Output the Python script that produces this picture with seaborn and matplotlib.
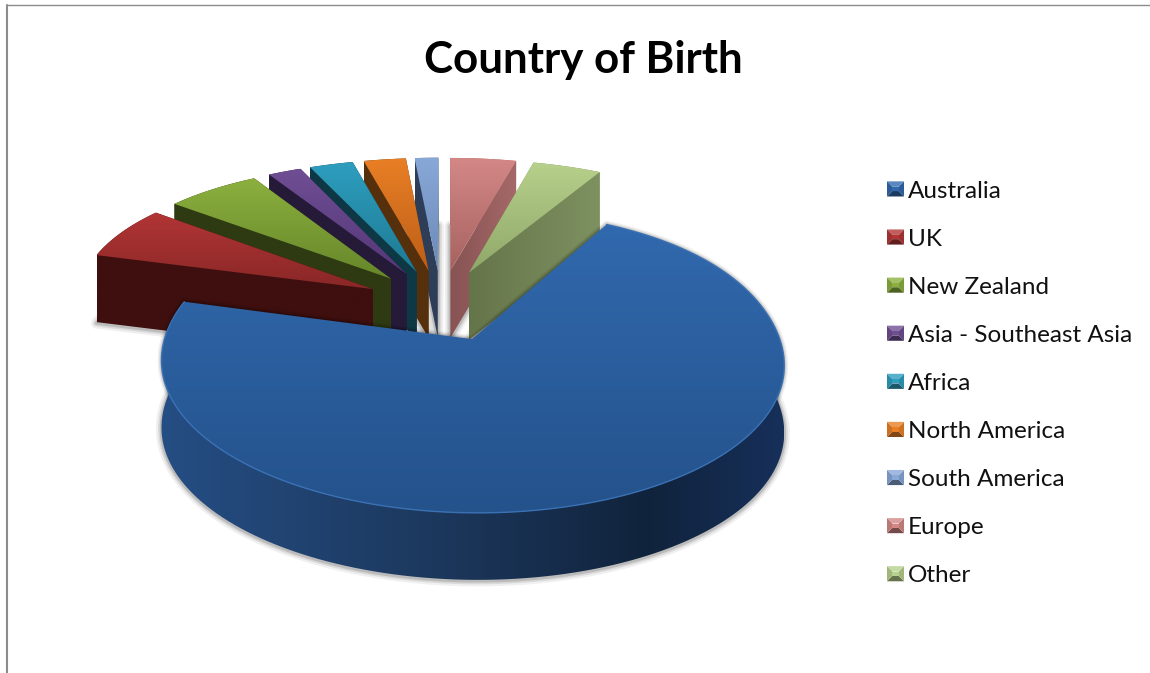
# Country of Birth - exploded 3D style pie drawn with seaborn / matplotlib
import numpy as np
import matplotlib
matplotlib.use("Agg")
import matplotlib.pyplot as plt
import seaborn as sns
from matplotlib.colors import to_rgb
from matplotlib.legend_handler import HandlerBase
from matplotlib.patches import Patch, Polygon

# ------------------------------
# Data
# ------------------------------
countries = ["Australia", "UK", "New Zealand", "Asia - Southeast Asia", "Africa",
             "North America", "South America", "Europe", "Other"]
shares = [70.9, 6.4, 5.8, 2.0, 2.6, 2.5, 1.4, 3.9, 4.1]

top_light = ["#3169AE", "#B23535", "#8CB03F", "#704E94", "#2E9EBF",
             "#E97F25", "#88A8D8", "#D38886", "#B7D08B"]
top_dark = ["#24528B", "#892727", "#668629", "#543878", "#1E7A94",
            "#BC5E18", "#6C8AB8", "#A66260", "#8FA769"]
face_near = ["#1B3558", "#3E0F0E", "#2E3A12", "#251A38", "#0E3844",
             "#56300C", "#2E3E58", "#875353", "#65754A"]
face_far = ["#1B3558", "#3E0F0E", "#2E3A12", "#251A38", "#0E3844",
            "#56300C", "#2E3E58", "#A56868", "#7E9160"]
wall_stops = ["#254E84", "#1B3558", "#10233C", "#17305A"]

# ------------------------------
# Projection of the pie plane
# ------------------------------
start_angle = 29.0
explode = 0.26
depth = 67
x0, y0, bx = 441, 305, 298
ay_back, ay_front = 139, 136.5
persp_back, persp_front, persp_y = 0.08, 0.15, 0.15


def project(x, y):
    # smooth blend between the far and the near half, no kink on the rim
    w = 0.5 * (1 + np.tanh(y / 0.5))
    px = 1 / (1 + (persp_front * (1 - w) + persp_back * w) * y)
    py = 1 / (1 + persp_y * y)
    return x0 + bx * x * px, y0 - (ay_front * (1 - w) + ay_back * w) * y * py


def mix(c1, c2, t):
    return tuple(np.array(to_rgb(c1)) * (1 - t) + np.array(to_rgb(c2)) * t)


sns.set_theme(style="white")
plt.rcParams["font.family"] = ["Lato", "DejaVu Sans"]
palette = sns.color_palette(top_light)

fig = plt.figure(figsize=(11.5, 6.73), dpi=100)
ax = fig.add_axes([0, 0, 1, 1])
ax.set_axis_off()


def fill_gradient(poly, colors, horizontal, zorder):
    # gradient image cut to the polygon
    ramp = np.array([to_rgb(c) for c in colors])
    pos = np.linspace(0, 1, len(colors))
    t = np.linspace(0, 1, 128)
    grad = np.column_stack([np.interp(t, pos, ramp[:, k]) for k in range(3)])
    grad = grad[None, :, :] if horizontal else grad[:, None, :]
    im = ax.imshow(grad, extent=[poly[:, 0].min(), poly[:, 0].max(), poly[:, 1].max(), poly[:, 1].min()],
                   aspect="auto", interpolation="bilinear", zorder=zorder)
    clip = Polygon(poly, closed=True, fc="none", ec="none", transform=ax.transData)
    ax.add_patch(clip)
    im.set_clip_path(clip)


spans = np.array(shares) / sum(shares) * 360
starts = start_angle + np.concatenate([[0], np.cumsum(spans)[:-1]])
mids = np.radians(starts + spans / 2)

# far slices first, Australia goes on last
order = sorted(range(len(shares)), key=lambda i: -np.cos(mids[i]))
z = 2

for i in order:
    cx, cy = explode * np.sin(mids[i]), explode * np.cos(mids[i])
    t = np.radians(np.linspace(starts[i], starts[i] + spans[i], 160))
    ox, oy = project(cx + np.sin(t), cy + np.cos(t))
    tipx, tipy = project(np.array(cx), np.array(cy))
    top = np.column_stack([np.r_[tipx, ox], np.r_[tipy, oy]])
    bottom = top + [0, depth]

    # soft shadow under the slice
    for lw, alpha in [(8, 0.06), (5, 0.09), (2.5, 0.14)]:
        ax.add_patch(Polygon(bottom + [0, 1], closed=True, fc="none", ec="black",
                             lw=lw, alpha=alpha, joinstyle="round", zorder=z))
        if i == 0:
            ax.add_patch(Polygon(top, closed=True, fc="none", ec="black",
                                 lw=lw * 0.7, alpha=alpha, joinstyle="round", zorder=z))
    z += 1

    # outer wall, on Australia it is the only part of the side that shows
    wall = np.vstack([np.column_stack([ox, oy]), np.column_stack([ox[::-1], oy[::-1] + depth])])
    if i == 0:
        # left to right, wall runs from x 158 to 785 and gets darkest past the middle
        stops = np.interp(np.linspace(wall[:, 0].min(), wall[:, 0].max(), 32), [158, 470, 650, 785], [0, 1, 2, 3])
        cols = [mix(wall_stops[int(min(s, 2))], wall_stops[int(min(s, 2)) + 1], s - int(min(s, 2))) for s in stops]
        fill_gradient(wall, cols, True, z)
    else:
        fill_gradient(wall, [face_far[i], face_far[i]], True, z)
    z += 1

    # the two flat cut faces
    if i != 0:
        for ex, ey in [(ox[0], oy[0]), (ox[-1], oy[-1])]:
            face = np.array([(tipx, tipy), (ex, ey), (ex, ey + depth), (tipx, tipy + depth)], dtype=float)
            cols = [face_near[i], face_far[i]] if ex > tipx else [face_far[i], face_near[i]]
            fill_gradient(face, cols, True, z)
            z += 1

    # top face with vertical gradient
    fill_gradient(top, [top_light[i], top_dark[i]], False, z)
    z += 1

    if i == 0:
        ax.plot(ox, oy, color="#3A71B5", lw=1.0, zorder=z)
        z += 1

# chart area border, only left and top are in the picture
ax.plot([7, 7], [5, 673], color="#8C8C8C", lw=1.5, zorder=1)
ax.plot([7, 1150], [5, 5], color="#8C8C8C", lw=1.0, zorder=1)

ax.text(583, 60, "Country of Birth", ha="center", va="center",
        fontsize=31.6, fontweight="bold", color="black")


# ------------------------------
# Legend with bevelled keys
# ------------------------------
class BevelKey(HandlerBase):
    def create_artists(self, legend, orig_handle, xd, yd, width, height, fontsize, trans):
        c = orig_handle.get_facecolor()[:3]
        x, y = -xd, -yd
        w, h = width, height
        b = 0.36 * h
        outer = [(x, y), (x + w, y), (x + w, y + h), (x, y + h)]
        inner = [(x + b, y + b), (x + w - b, y + b), (x + w - b, y + h - b), (x + b, y + h - b)]
        shades = [mix(c, "black", 0.45), mix(c, "black", 0.12), mix(c, "white", 0.2), mix(c, "black", 0.12)]
        parts = []
        for k in range(4):
            n = (k + 1) % 4
            parts.append(Polygon([outer[k], outer[n], inner[n], inner[k]], closed=True,
                                 fc=shades[k], ec="none", transform=trans))
        parts.append(Polygon(inner, closed=True, fc=c, ec="none", transform=trans))
        return parts


handles = [Patch(facecolor=c, label=n) for c, n in zip(palette, countries)]
ax.legend(handles=handles, loc="upper left", bbox_to_anchor=(887, 180.5),
          bbox_transform=ax.transData, frameon=False, fontsize=17.5,
          handler_map={Patch: BevelKey()}, handlelength=0.7, handleheight=0.58,
          handletextpad=0.17, labelspacing=1.115, borderpad=0, borderaxespad=0,
          labelcolor="#111111")

ax.set_xlim(0, 1150)
ax.set_ylim(673, 0)

plt.savefig("out.png", dpi=100)
